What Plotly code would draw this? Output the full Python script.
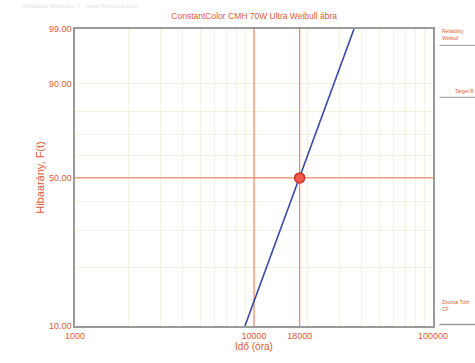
import numpy as np
import plotly.graph_objects as go

# Weibull probability plot: unreliability vs. time
line_time = [8900, 36200]          # fitted probability line end points (óra)
line_unrel = [0.10, 0.99]          # unreliability at those end points
target_time = [18000]
target_unrel = [0.50]
ref_times = [10000, 18000]         # vertical reference lines
ref_unrel = 0.50                   # horizontal reference line

y_labels = [0.10, 0.50, 0.90, 0.99]
y_label_text = ["10.00", "50.00", "90.00", "99.00"]
y_grid = [0.20, 0.30, 0.40, 0.60, 0.70, 0.80]
x_labels = [1000, 10000, 18000, 100000]
x_grid = [2000, 3000, 4000, 5000, 6000, 7000, 8000, 9000,
          20000, 30000, 40000, 50000, 60000, 70000, 80000, 90000]
x_range = [1000, 100000]
y_range = [0.10, 0.99]


def wb(p):
    """Weibull probability-paper ordinate."""
    p = np.asarray(p, dtype=float)
    return np.log(-np.log(1.0 - p))


ORANGE = "#dd5a32"
RED = "#f0704e"
GRID = "#eef4de"
FONT = "Liberation Sans Narrow, Liberation Sans, Arial"

fig = go.Figure()

# target reference lines
for xv in ref_times:
    fig.add_trace(go.Scatter(
        x=[xv, xv], y=wb(y_range), mode="lines",
        line=dict(color=RED, width=1), showlegend=False, hoverinfo="skip"))
fig.add_trace(go.Scatter(
    x=x_range, y=wb([ref_unrel, ref_unrel]), mode="lines",
    line=dict(color=RED, width=1), showlegend=False, hoverinfo="skip"))

fig.add_trace(go.Scatter(
    x=line_time, y=wb(line_unrel), mode="lines",
    line=dict(color="#3a48a8", width=1.6), showlegend=False, hoverinfo="skip"))

fig.add_trace(go.Scatter(
    x=target_time, y=wb(target_unrel), mode="markers",
    marker=dict(size=10, color="#f25a48", line=dict(color="#c8302a", width=1.5)),
    showlegend=False))

y_ticks = sorted(y_labels + y_grid)
y_text = [y_label_text[y_labels.index(v)] if v in y_labels else "" for v in y_ticks]
x_ticks = sorted(x_labels + x_grid)
x_text = [str(v) if v in x_labels else "" for v in x_ticks]

fig.update_xaxes(
    type="log", range=[np.log10(x_range[0]), np.log10(x_range[1])],
    tickvals=x_ticks, ticktext=x_text,
    showgrid=True, gridcolor=GRID, gridwidth=1,
    showline=True, linecolor="#9a9a9a", linewidth=1.5, mirror=True,
    ticks="", zeroline=False,
    tickfont=dict(family=FONT, size=9, color=ORANGE),
    title=dict(text="Idő (óra)", font=dict(family=FONT, size=10, color=ORANGE), standoff=3))

fig.update_yaxes(
    range=[float(wb(y_range[0])), float(wb(y_range[1]))],
    tickvals=list(wb(y_ticks)), ticktext=y_text,
    showgrid=True, gridcolor=GRID, gridwidth=1,
    showline=True, linecolor="#9a9a9a", linewidth=1.5, mirror=True,
    ticks="", zeroline=False,
    tickfont=dict(family=FONT, size=9, color=ORANGE),
    title=dict(text="Hibaarány, F(t)", font=dict(family=FONT, size=11, color=ORANGE), standoff=2))

# right-hand legend panel
fig.add_annotation(xref="paper", yref="paper", x=1.02, y=0.98, xanchor="left", yanchor="middle",
                   text="Reliability<br>Weibull", showarrow=False, align="left",
                   font=dict(family=FONT, size=5, color=ORANGE))
fig.add_shape(type="line", xref="paper", yref="paper", x0=1.018, x1=1.15, y0=0.945, y1=0.945,
              line=dict(color="#9a9a9a", width=1))
fig.add_trace(go.Scatter(x=[1.035], y=[0.79], xaxis="x2", yaxis="y2", mode="markers",
                         marker=dict(size=5, color="#f04a3a"), showlegend=False, hoverinfo="skip"))
fig.add_annotation(xref="paper", yref="paper", x=1.055, y=0.79, xanchor="left", yanchor="middle",
                   text="Target R", showarrow=False,
                   font=dict(family=FONT, size=5, color=ORANGE))
fig.add_shape(type="line", xref="paper", yref="paper", x0=1.018, x1=1.15, y0=0.77, y1=0.77,
              line=dict(color="#9a9a9a", width=1))
fig.add_annotation(xref="paper", yref="paper", x=1.02, y=0.07, xanchor="left", yanchor="middle",
                   text="Zsuzsa Tóth<br>CF", showarrow=False, align="left",
                   font=dict(family=FONT, size=5, color=ORANGE))
fig.add_shape(type="line", xref="paper", yref="paper", x0=1.018, x1=1.15, y0=0.005, y1=0.005,
              line=dict(color="#9a9a9a", width=1.5))

# faint header text
fig.add_annotation(xref="paper", yref="paper", x=-0.15, y=1.06, xanchor="left", yanchor="bottom",
                   text="ReliaSoft Weibull++ 7 - www.ReliaSoft.com", showarrow=False,
                   font=dict(family=FONT, size=6, color="#e2e2e2"))

fig.update_layout(
    width=475, height=363,
    margin=dict(l=75, r=42, t=29, b=28),
    paper_bgcolor="white", plot_bgcolor="white",
    title=dict(text="ConstantColor CMH 70W Ultra Weibull ábra", x=0.535, xanchor="center",
               y=0.955, yanchor="middle",
               font=dict(family=FONT, size=8.5, color=ORANGE)),
    xaxis2=dict(domain=[0, 1], range=[0, 1], overlaying="x", visible=False, anchor="y2"),
    yaxis2=dict(domain=[0, 1], range=[0, 1], overlaying="y", visible=False, anchor="x2"),
    showlegend=False,
)

fig.write_html("out.html")
